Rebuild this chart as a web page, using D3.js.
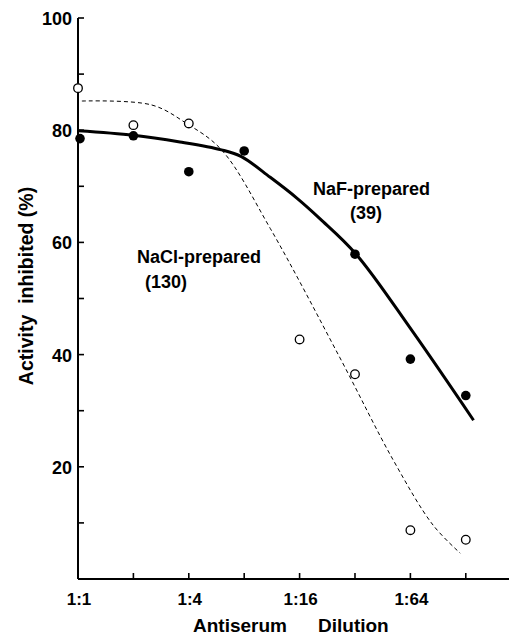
<!DOCTYPE html>
<html>
<head>
<meta charset="utf-8">
<script src="https://cdn.jsdelivr.net/npm/d3@7"></script>
<style>
  html, body { margin: 0; padding: 0; background: #fff; }
  svg { display: block; }
  text { font-family: "Liberation Sans", Arial, Helvetica, sans-serif; font-weight: bold; fill: #000; }
</style>
</head>
<body>
<svg id="chart" width="509" height="636"></svg>
<script>
// ---- Data (x = log2 of dilution: 0 -> 1:1, 2 -> 1:4, ...) ----
const xTicks = [0, 1, 2, 3, 4, 5, 6, 7];
const xTickLabels = ["1:1", "", "1:4", "", "1:16", "", "1:64", ""];
const yTicks = [10, 20, 30, 40, 50, 60, 70, 80, 90, 100];
const yTickLabels = ["", "20", "", "40", "", "60", "", "80", "", "100"];

// NaCl-prepared (open circles)
const naclX = [0, 1, 2, 4, 5, 6, 7];
const naclY = [87.5, 80.9, 81.2, 42.7, 36.5, 8.7, 7.0];
// NaF-prepared (filled circles)
const nafX = [0, 1, 2, 3, 5, 6, 7];
const nafY = [78.5, 79.0, 72.6, 76.3, 57.9, 39.2, 32.7];

// Fitted solid curve (NaF)
const nafCurveX = [0, 1, 1.84, 2.59, 2.95, 3.47, 3.95, 4.37, 5.02, 6.02, 7.14];
const nafCurveY = [79.9, 79.1, 77.9, 76.5, 75.3, 71.6, 67.9, 64.2, 57.9, 44.4, 28.3];
// Dashed curve (NaCl)
const naclCurveX = [0.07, 1.33, 1.96, 2.59, 3.47, 4.73, 5.69, 6.41, 6.9];
const naclCurveY = [85.2, 84.5, 81.2, 76.5, 62.5, 39.4, 21.2, 9.6, 4.6];

const svg = d3.select("#chart");
const x = d3.scaleLinear().domain([0, 7.78]).range([78, 509]);
const y = d3.scaleLinear().domain([0, 100]).range([579, 18]);

// Axes lines
svg.append("line").attr("x1", x(0)).attr("x2", x(0)).attr("y1", y(100)).attr("y2", y(0))
  .attr("stroke", "#000").attr("stroke-width", 2);
svg.append("line").attr("x1", x(0)).attr("x2", 509).attr("y1", y(0)).attr("y2", y(0))
  .attr("stroke", "#000").attr("stroke-width", 2);

// Y ticks (inside) and labels
svg.selectAll(".ytick").data(yTicks).join("line")
  .attr("x1", x(0)).attr("x2", x(0) + 6)
  .attr("y1", d => y(d)).attr("y2", d => y(d))
  .attr("stroke", "#000").attr("stroke-width", 1.6);
svg.selectAll(".ylab").data(yTicks).join("text")
  .attr("x", 72).attr("y", d => y(d) + 1)
  .attr("text-anchor", "end").attr("dominant-baseline", "central")
  .attr("font-size", 18)
  .text((d, i) => yTickLabels[i]);

// X ticks (inside) and labels
svg.selectAll(".xtick").data(xTicks.slice(1)).join("line")
  .attr("x1", d => x(d)).attr("x2", d => x(d))
  .attr("y1", y(0)).attr("y2", y(0) - 6)
  .attr("stroke", "#000").attr("stroke-width", 1.6);
svg.selectAll(".xlab").data(xTicks).join("text")
  .attr("x", d => x(d) + 1).attr("y", 605)
  .attr("text-anchor", "middle")
  .attr("font-size", 17)
  .text((d, i) => xTickLabels[i]);

// Axis titles
svg.append("text").attr("x", 193).attr("y", 632)
  .attr("font-size", 19).text("Antiserum");
svg.append("text").attr("x", 318).attr("y", 632)
  .attr("font-size", 19).text("Dilution");
svg.append("text").attr("transform", "translate(33,286) rotate(-90)")
  .attr("text-anchor", "middle").attr("font-size", 19.5)
  .style("white-space", "pre")
  .text("Activity  inhibited (%)");

// Curves
const line = d3.line().x(d => x(d[0])).y(d => y(d[1])).curve(d3.curveCatmullRom.alpha(0.5));
svg.append("path").datum(naclCurveX.map((v, i) => [v, naclCurveY[i]]))
  .attr("d", line).attr("fill", "none").attr("stroke", "#000")
  .attr("stroke-width", 1).attr("stroke-dasharray", "4,3");
svg.append("path").datum(nafCurveX.map((v, i) => [v, nafCurveY[i]]))
  .attr("d", line).attr("fill", "none").attr("stroke", "#000")
  .attr("stroke-width", 3);

// Points
svg.selectAll(".open").data(naclX.map((v, i) => [v, naclY[i]])).join("circle")
  .attr("cx", d => x(d[0])).attr("cy", d => y(d[1])).attr("r", 4.3)
  .attr("fill", "#fff").attr("stroke", "#000").attr("stroke-width", 1.3);
svg.selectAll(".filled").data(nafX.map((v, i) => [v, nafY[i]])).join("circle")
  .attr("cx", d => x(d[0]) + (d[0] === 0 ? 2 : 0)).attr("cy", d => y(d[1])).attr("r", 4.8)
  .attr("fill", "#000");

// Curve labels
svg.append("text").attr("x", 313).attr("y", 195).attr("font-size", 18).text("NaF-prepared");
svg.append("text").attr("x", 366).attr("y", 219).attr("text-anchor", "middle").attr("font-size", 18).text("(39)");
svg.append("text").attr("x", 137).attr("y", 263).attr("font-size", 18).text("NaCl-prepared");
svg.append("text").attr("x", 166).attr("y", 288).attr("text-anchor", "middle").attr("font-size", 18).text("(130)");
</script>
</body>
</html>
